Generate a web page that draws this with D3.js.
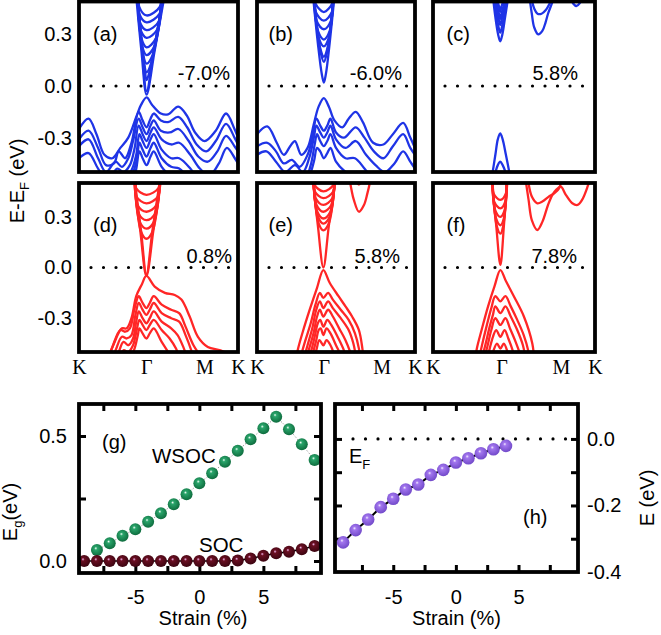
<!DOCTYPE html>
<html><head><meta charset="utf-8">
<script src="https://cdn.jsdelivr.net/npm/d3@7"></script>
<style>body{margin:0;background:#fff} svg{display:block} text{fill:#000}</style>
</head><body><svg id="c" width="661" height="635" font-family="Liberation Sans, Arial, sans-serif"></svg>
<script>
// ---------------- DATA ----------------
const kPoints = [0, 42.3, 78.9, 100];
const kLabels = ["K", "Γ", "M", "K"];
const energyTicks = [0.3, 0.0, -0.3];
const panelTags = ["(a)", "(b)", "(c)", "(d)", "(e)", "(f)"];
const strainTags = ["-7.0%", "-6.0%", "5.8%", "0.8%", "5.8%", "7.8%"];

// band arrays: [k (0..100 along K-Γ-M-K), E-EF (eV)]
const aCond = [
 [[36,0.52],[39.3,0.2],[42.5,-0.05],[47.5,0.2],[53.7,0.52]],
 [[36.6,0.52],[39.8,0.2],[42.5,-0.03],[47,0.2],[53,0.52]],
 [[36.8,0.52],[41.5,0.085],[42.5,0.035],[44.4,0.085],[52.8,0.52]],
 [[36.9,0.52],[41.0,0.13],[42.5,0.08],[45.3,0.13],[52.6,0.52]],
 [[37.0,0.52],[40.4,0.18],[42.5,0.13],[46.3,0.18],[52.4,0.52]],
 [[37.1,0.52],[39.8,0.23],[42.5,0.18],[47.3,0.23],[52.2,0.52]],
 [[37.2,0.52],[39.3,0.275],[42.5,0.225],[48.2,0.275],[52.0,0.52]],
 [[37.3,0.52],[38.6,0.33],[42.5,0.28],[49.3,0.33],[51.8,0.52]],
 [[37.4,0.52],[38.1,0.375],[42.5,0.325],[50.2,0.375],[51.6,0.52]],
 [[37.5,0.52],[37.9,0.42],[42.5,0.37],[50.6,0.42],[51.4,0.52]],
 [[37.6,0.52],[37.9,0.46],[42.5,0.41],[50.8,0.46],[51.2,0.52]]
];
const aVal = [
 [[0,-0.25],[6,-0.19],[11,-0.28],[16,-0.4],[21,-0.42],[26,-0.36],[31,-0.3],[36,-0.18],[39,-0.11],[42.5,-0.066],[46,-0.11],[51.5,-0.16],[56,-0.165],[62.4,-0.12],[67.7,-0.17],[73,-0.27],[79,-0.32],[86,-0.26],[92.5,-0.16],[97.8,-0.25],[100,-0.3]],
 [[0,-0.31],[6,-0.26],[12,-0.36],[17,-0.46],[22,-0.45],[25,-0.38],[29,-0.42],[33,-0.33],[37.5,-0.15],[40,-0.2],[42.5,-0.24],[45,-0.19],[47,-0.16],[51.5,-0.2],[56,-0.21],[62.4,-0.18],[68,-0.24],[74,-0.34],[80,-0.38],[86,-0.32],[92.5,-0.22],[97.8,-0.3],[100,-0.34]],
 [[0,-0.35],[6,-0.31],[12,-0.42],[17,-0.5],[23,-0.44],[27,-0.47],[31,-0.42],[34,-0.32],[37.5,-0.19],[40,-0.24],[42.5,-0.28],[45,-0.23],[47,-0.2],[51.5,-0.26],[57,-0.27],[62.5,-0.25],[69,-0.32],[75,-0.41],[81,-0.44],[87,-0.38],[92.5,-0.29],[97.8,-0.35],[100,-0.38]],
 [[0,-0.42],[6,-0.39],[12,-0.48],[18,-0.55],[24,-0.48],[28,-0.5],[32,-0.46],[35,-0.36],[37.5,-0.23],[40,-0.28],[42.5,-0.32],[45,-0.27],[47,-0.24],[52,-0.31],[58,-0.34],[63,-0.33],[70,-0.4],[76,-0.48],[82,-0.52],[88,-0.45],[93,-0.36],[98,-0.42],[100,-0.45]],
 [[20,-0.55],[25,-0.5],[29,-0.53],[33,-0.49],[36,-0.4],[38,-0.28],[40,-0.32],[42.5,-0.36],[45,-0.31],[47,-0.28],[52,-0.37],[58,-0.42],[63,-0.42],[70,-0.48],[76,-0.56]],
 [[25,-0.56],[30,-0.55],[34,-0.5],[36.5,-0.42],[38,-0.33],[40,-0.37],[42.5,-0.41],[45,-0.36],[47,-0.33],[52,-0.42],[58,-0.47],[63,-0.48],[70,-0.55]],
 [[30,-0.58],[35,-0.52],[38,-0.38],[40,-0.42],[42.5,-0.46],[45,-0.41],[47,-0.38],[52,-0.47],[58,-0.53]]
];
const bCond = [
 [[35.5,0.52],[38.5,0.25],[41,0.07],[42.3,0.02],[43.6,0.07],[46,0.25],[49,0.52]],
 [[36,0.52],[40.4,0.19],[42.3,0.14],[44.2,0.19],[48.5,0.52]],
 [[36.1,0.52],[40.0,0.22],[42.3,0.17],[44.6,0.22],[48.4,0.52]],
 [[36.2,0.52],[39.1,0.28],[42.3,0.23],[45.4,0.28],[48.3,0.52]],
 [[36.3,0.52],[38.6,0.32],[42.3,0.27],[46.0,0.32],[48.2,0.52]],
 [[36.4,0.52],[37.7,0.38],[42.3,0.33],[46.8,0.38],[48.1,0.52]],
 [[36.5,0.52],[37.2,0.43],[42.3,0.38],[47.4,0.43],[48.0,0.52]],
 [[36.7,0.52],[37.0,0.48],[42.3,0.43],[47.6,0.48],[47.9,0.52]]
];
const bVal = [
 [[0,-0.28],[6.5,-0.235],[12.5,-0.33],[17,-0.4],[21,-0.35],[24,-0.32],[28,-0.4],[32,-0.36],[36,-0.22],[39,-0.12],[42.3,-0.07],[45.5,-0.12],[49,-0.2],[54,-0.24],[58,-0.19],[62.5,-0.15],[67,-0.21],[73.5,-0.33],[80,-0.34],[86,-0.28],[92.5,-0.215],[97,-0.3],[100,-0.36]],
 [[0,-0.35],[6.5,-0.33],[12,-0.38],[17,-0.45],[22,-0.43],[27,-0.47],[32,-0.4],[35,-0.3],[37.6,-0.19],[40,-0.23],[42.3,-0.26],[44.5,-0.23],[46.5,-0.19],[50,-0.27],[55,-0.3],[62.5,-0.24],[68,-0.3],[74,-0.38],[80,-0.42],[86,-0.35],[92.5,-0.28],[97,-0.36],[100,-0.4]],
 [[0,-0.4],[6,-0.38],[12,-0.44],[18,-0.5],[24,-0.46],[29,-0.5],[33,-0.42],[36,-0.3],[37.6,-0.23],[40,-0.27],[42.3,-0.3],[44.5,-0.27],[46.5,-0.23],[50,-0.31],[56,-0.36],[62.5,-0.32],[69,-0.4],[75,-0.46],[81,-0.5],[87,-0.45],[92.5,-0.38],[97,-0.44],[100,-0.48]],
 [[18,-0.56],[24,-0.5],[30,-0.55],[34,-0.46],[36.5,-0.34],[38,-0.28],[40,-0.32],[42.3,-0.35],[44.5,-0.32],[46.5,-0.28],[50,-0.36],[56,-0.42],[62,-0.42],[68,-0.48],[74,-0.55]],
 [[28,-0.56],[33,-0.52],[36,-0.44],[38,-0.36],[40,-0.38],[42.3,-0.42],[44.5,-0.39],[46.5,-0.36],[50,-0.44],[56,-0.5],[60,-0.52]]
];
const cCond = [
 [[37,0.52],[38.5,0.4],[40.2,0.3],[41.5,0.26],[42.8,0.3],[44.5,0.4],[46.5,0.52]],
 [[37.5,0.52],[40.3,0.35],[41.5,0.31],[42.7,0.35],[46,0.52]],
 [[38,0.52],[40.5,0.39],[41.5,0.355],[42.5,0.39],[45.5,0.52]],
 [[38.5,0.52],[40.7,0.42],[41.5,0.39],[42.3,0.42],[45,0.52]],
 [[39,0.52],[40.8,0.46],[41.5,0.43],[42.2,0.46],[44.5,0.52]],
 [[59.5,0.52],[61,0.42],[62.5,0.34],[65,0.3],[67.5,0.32],[69.5,0.37],[71,0.42],[73,0.47],[75,0.52]],
 [[60.5,0.52],[62.5,0.45],[64.5,0.42],[67,0.42],[69.5,0.44],[72,0.48],[74,0.52]],
 [[84.5,0.52],[86.5,0.48],[88.5,0.465],[90.5,0.48],[92,0.52]]
];
const cVal = [
 [[36.5,-0.52],[38.5,-0.4],[40,-0.31],[41.5,-0.275],[43,-0.31],[45,-0.4],[47.5,-0.52]],
 [[38,-0.52],[40,-0.46],[41.5,-0.44],[43,-0.46],[45.5,-0.52]]
];
const dCond = [
 [[34.4,0.52],[38.5,0.22],[42.4,-0.05],[46.8,0.22],[51.6,0.52]],
 [[35,0.52],[39,0.22],[42.4,-0.04],[46.2,0.22],[51,0.52]],
 [[35.2,0.52],[39.1,0.21],[42.4,0.17],[46.1,0.21],[50.9,0.52]],
 [[35.3,0.52],[38.2,0.27],[42.4,0.23],[47.1,0.27],[50.8,0.52]],
 [[35.4,0.52],[37.5,0.32],[42.4,0.28],[48.0,0.32],[50.7,0.52]],
 [[35.5,0.52],[36.8,0.37],[42.4,0.33],[48.8,0.37],[50.6,0.52]],
 [[35.6,0.52],[36.1,0.42],[42.4,0.38],[49.6,0.42],[50.5,0.52]],
 [[35.7,0.52],[35.9,0.47],[42.4,0.43],[50.0,0.47],[50.4,0.52]]
];
const dVal = [
 [[18,-0.55],[22,-0.45],[27,-0.36],[30,-0.36],[33,-0.3],[36,-0.17],[39.5,-0.1],[42.4,-0.05],[47.6,-0.113],[54,-0.15],[60.2,-0.163],[64.4,-0.19],[69.6,-0.29],[74.8,-0.41],[81,-0.47],[89,-0.49],[96,-0.52]],
 [[17,-0.57],[21,-0.47],[26,-0.37],[29,-0.38],[32,-0.36],[35,-0.24],[37.6,-0.17],[40,-0.21],[42.4,-0.24],[44.5,-0.21],[47,-0.17],[52,-0.22],[58,-0.25],[63,-0.27],[67,-0.35],[72,-0.46],[77,-0.53]],
 [[19,-0.58],[23,-0.49],[27,-0.41],[30,-0.42],[33,-0.4],[35.5,-0.28],[37.6,-0.21],[40,-0.25],[42.4,-0.28],[44.5,-0.25],[47,-0.21],[52,-0.27],[58,-0.3],[63,-0.32],[67,-0.4],[71,-0.5],[73,-0.56]],
 [[22,-0.58],[25,-0.5],[28,-0.44],[31,-0.46],[34,-0.42],[36,-0.32],[37.6,-0.26],[40,-0.3],[42.4,-0.33],[44.5,-0.3],[47,-0.26],[52,-0.32],[58,-0.36],[62,-0.4],[66,-0.48],[69,-0.56]],
 [[24,-0.58],[28,-0.49],[31,-0.5],[34,-0.46],[36.5,-0.36],[38,-0.31],[40,-0.34],[42.4,-0.37],[44.5,-0.34],[47,-0.31],[52,-0.37],[57,-0.42],[61,-0.48],[64,-0.56]],
 [[27,-0.56],[31,-0.52],[34,-0.5],[37,-0.4],[38,-0.36],[40,-0.39],[42.4,-0.42],[44.5,-0.39],[47,-0.36],[52,-0.44],[56,-0.5],[59,-0.56]]
];
const eCond = [
 [[35.3,0.52],[38.5,0.25],[42,0.0],[45.5,0.25],[49.6,0.52]],
 [[35.6,0.53],[39.1,0.26],[42,0.22],[45.4,0.26],[49.3,0.53]],
 [[35.7,0.53],[38.6,0.30],[42,0.26],[46.0,0.30],[49.2,0.53]],
 [[35.8,0.53],[38.2,0.33],[42,0.29],[46.45,0.33],[49.1,0.53]],
 [[35.9,0.53],[37.7,0.37],[42,0.33],[47.05,0.37],[49.0,0.53]],
 [[36.0,0.53],[37.2,0.41],[42,0.37],[47.65,0.41],[48.9,0.53]],
 [[36.1,0.53],[36.65,0.45],[42,0.41],[48.25,0.45],[48.8,0.53]],
 [[36.2,0.53],[36.4,0.49],[42,0.45],[48.5,0.49],[48.7,0.53]],
 [[58.5,0.53],[59.8,0.46],[61.3,0.40],[64.5,0.33],[67.7,0.37],[69.9,0.44],[71.4,0.5],[72,0.53]],
 [[62,0.53],[64.5,0.49],[67,0.53]]
];
const eVal = [
 [[24.5,-0.55],[26,-0.48],[29,-0.38],[33,-0.26],[38,-0.12],[42,-0.015],[46,-0.09],[51.6,-0.17],[56,-0.23],[60.2,-0.29],[64.5,-0.37],[66.7,-0.48],[67.5,-0.55]],
 [[27,-0.55],[30,-0.45],[34,-0.33],[37,-0.22],[39.8,-0.15],[42,-0.18],[45,-0.15],[48,-0.19],[53,-0.25],[58,-0.31],[62,-0.39],[64.5,-0.48],[65.5,-0.55]],
 [[29,-0.56],[32,-0.46],[35,-0.36],[37.5,-0.25],[39.8,-0.2],[42,-0.24],[45,-0.2],[48,-0.24],[53,-0.3],[58,-0.37],[61,-0.45],[63,-0.55]],
 [[30,-0.56],[33,-0.48],[36,-0.38],[38,-0.29],[39.8,-0.25],[42,-0.29],[45,-0.25],[48,-0.29],[52,-0.36],[56,-0.43],[59,-0.5],[61,-0.56]],
 [[31,-0.56],[34,-0.5],[36.5,-0.41],[38.5,-0.33],[40,-0.31],[42,-0.35],[44.5,-0.31],[47,-0.34],[51,-0.41],[55,-0.49],[57,-0.56]],
 [[33,-0.56],[35.5,-0.5],[37.5,-0.43],[39,-0.37],[40.3,-0.36],[42,-0.4],[44,-0.36],[46.5,-0.39],[50,-0.46],[53,-0.52],[54,-0.56]],
 [[35,-0.56],[37.5,-0.49],[39.5,-0.43],[42,-0.46],[44,-0.43],[46.5,-0.46],[49,-0.52],[50,-0.56]]
];
const fCond = [
 [[36.2,0.52],[39,0.25],[41.6,0.015],[43.8,0.25],[46,0.52]],
 [[36.6,0.53],[39.5,0.24],[41.6,0.2],[43.2,0.24],[45.7,0.53]],
 [[36.7,0.53],[38.95,0.29],[41.6,0.25],[43.7,0.29],[45.6,0.53]],
 [[36.8,0.53],[38.4,0.34],[41.6,0.3],[44.2,0.34],[45.5,0.53]],
 [[36.9,0.53],[37.8,0.39],[41.6,0.35],[44.6,0.39],[45.4,0.53]],
 [[37.0,0.53],[37.3,0.44],[41.6,0.4],[45.05,0.44],[45.3,0.53]],
 [[57,0.53],[59,0.4],[61,0.28],[64.4,0.222],[67.5,0.27],[71,0.37],[73.7,0.43],[76,0.46],[78.9,0.478],[82,0.43],[86,0.38],[89.2,0.37],[92,0.4],[95.4,0.478],[97,0.53]],
 [[58.5,0.53],[61,0.42],[64.4,0.38],[67.5,0.39],[71.6,0.42],[75,0.44],[77.8,0.468],[79.5,0.53]],
 [[3,0.53],[5,0.5],[7,0.53]]
];
const fVal = [
 [[26,-0.55],[27.1,-0.478],[30,-0.37],[34,-0.23],[38,-0.11],[41.6,-0.015],[45,-0.08],[49.9,-0.17],[56.1,-0.29],[61.3,-0.45],[62.5,-0.55]],
 [[28,-0.56],[30,-0.47],[33,-0.35],[36,-0.24],[38.5,-0.17],[41.6,-0.2],[44.7,-0.17],[48,-0.23],[52,-0.31],[56,-0.4],[59,-0.5],[60,-0.56]],
 [[29.5,-0.56],[32,-0.47],[35,-0.35],[37,-0.28],[38.5,-0.23],[41.6,-0.27],[44.7,-0.23],[48,-0.29],[52,-0.37],[55.5,-0.46],[57.5,-0.56]],
 [[31,-0.56],[33.5,-0.47],[36,-0.37],[38.5,-0.3],[41.6,-0.34],[44.7,-0.3],[47.5,-0.36],[51,-0.44],[54,-0.52],[55,-0.56]],
 [[33,-0.56],[35,-0.48],[37,-0.41],[39,-0.37],[41.6,-0.41],[44.2,-0.37],[46.5,-0.42],[49.5,-0.5],[51,-0.56]],
 [[35,-0.56],[37,-0.5],[39.5,-0.45],[41.6,-0.48],[43.7,-0.45],[46,-0.5],[47.5,-0.56]]
];

// panel (g): band gap vs strain
const strainWSOC = [-8,-7,-6,-5,-4,-3,-2,-1,0,1,2,3,4,5,6,7,8,9];
const gapWSOC = [0.044,0.071,0.101,0.127,0.157,0.191,0.227,0.267,0.311,0.351,0.397,0.441,0.487,0.531,0.577,0.527,0.467,0.404];
const strainSOC = [-9,-8,-7,-6,-5,-4,-3,-2,-1,0,1,2,3,4,5,6,7,8,9];
const gapSOC = [0.0,0.0,0.0,0.0,0.0,0.0,0.0,0.0,0.0,0.0,0.0,0.0,0.002,0.01,0.021,0.031,0.037,0.047,0.06];
const gTicksX = [-5, 0, 5];
const gTicksY = [0.0, 0.5];
// panel (h): band position vs strain
const strainEF = [-9,-8,-7,-6,-5,-4,-3,-2,-1,0,1,2,3,4];
const energyEF = [-0.311,-0.274,-0.242,-0.205,-0.180,-0.152,-0.137,-0.108,-0.093,-0.071,-0.058,-0.043,-0.031,-0.021];
const hTicksX = [-5, 0, 5];
const hTicksY = [0.0, -0.2, -0.4];

// ---------------- DRAW ----------------
const SANS = "Liberation Sans, Arial, sans-serif";
const SERIF = "Liberation Serif, Times New Roman, serif";
const svg = d3.select("#c");
const defs = svg.append("defs");
const BLUE = "#1f34e6", RED = "#ff2626";

const bandSets = [
  {bands: aCond.concat(aVal), col: 0, row: 0},
  {bands: bCond.concat(bVal), col: 1, row: 0},
  {bands: cCond.concat(cVal), col: 2, row: 0},
  {bands: dCond.concat(dVal), col: 0, row: 1},
  {bands: eCond.concat(eVal), col: 1, row: 1},
  {bands: fCond.concat(fVal), col: 2, row: 1}
];
const cols = [{x0:79, x1:238, tagDx:14, pctR:230}, {x0:257, x1:415, tagDx:11.5, pctR:402}, {x0:433, x1:595, tagDx:13.5, pctR:578}];
const rows = [{y0:0, y1:172, ft:1.5, tagY:41, pctY:80}, {y0:183, y1:352, ft:183, tagY:232, pctY:263}];
const pctRight2 = [232, 400, 577];

bandSets.forEach((p, i) => {
  const c = cols[p.col], r = rows[p.row];
  const x = d3.scaleLinear().domain([0, 100]).range([c.x0, c.x1]);
  const y = d3.scaleLinear().domain([-0.5, 0.5]).range([r.y1, r.y0]);
  const g = svg.append("g");
  const cid = "clip" + i;
  defs.append("clipPath").attr("id", cid).append("rect")
    .attr("x", c.x0).attr("y", r.ft).attr("width", c.x1 - c.x0).attr("height", r.y1 - r.ft);
  const line = d3.line().x(d => x(d[0])).y(d => y(d[1])).curve(d3.curveCatmullRom.alpha(0.5));
  g.append("g").attr("clip-path", `url(#${cid})`).selectAll("path").data(p.bands).join("path")
    .attr("d", line).attr("fill", "none").attr("stroke", p.row === 0 ? BLUE : RED)
    .attr("stroke-width", 2.3).attr("stroke-linejoin", "round");
  g.append("line").attr("x1", c.x0 + 12).attr("x2", c.x1 - 3).attr("y1", y(0)).attr("y2", y(0))
    .attr("stroke", "#000").attr("stroke-width", 3.2).attr("stroke-linecap", "round")
    .attr("stroke-dasharray", "0,12.5");
  g.append("rect").attr("x", c.x0).attr("y", r.ft).attr("width", c.x1 - c.x0).attr("height", r.y1 - r.ft)
    .attr("fill", "none").attr("stroke", "#000").attr("stroke-width", 3.8);
  g.append("text").attr("x", c.x0 + c.tagDx).attr("y", r.tagY).attr("font-size", 20).text(panelTags[i]);
  g.append("text").attr("x", p.row === 0 ? c.pctR : pctRight2[p.col]).attr("y", r.pctY)
    .attr("text-anchor", "end").attr("font-size", 20).text(strainTags[i]);
  if (p.col === 0) {
    const ax = d3.axisLeft(y).tickValues(energyTicks).tickSize(0).tickPadding(7).tickFormat(d => d.toFixed(1));
    const ag = g.append("g").attr("transform", `translate(${c.x0},0)`).call(ax);
    ag.select(".domain").remove();
    ag.attr("font-size", 20).attr("font-family", SANS);
  }
  if (p.row === 1) {
    const ax = d3.axisBottom(x).tickValues(kPoints).tickSize(0).tickPadding(8).tickFormat((d, j) => kLabels[j]);
    const ag = g.append("g").attr("transform", `translate(0,${r.y1})`).call(ax);
    ag.select(".domain").remove();
    ag.attr("font-size", 20).attr("font-family", SERIF);
  }
});

svg.append("text").attr("transform", "translate(24,181) rotate(-90)").attr("text-anchor", "middle").attr("font-size", 20)
  .call(t => {
    t.append("tspan").text("E-E");
    t.append("tspan").attr("font-size", 13).attr("dy", 5).text("F");
    t.append("tspan").attr("dy", -5).text(" (eV)");
  });

function ball(id, hi, mid, edge) {
  const gr = defs.append("radialGradient").attr("id", id).attr("cx", "45%").attr("cy", "42%").attr("r", "60%").attr("fx", "40%").attr("fy", "35%");
  gr.append("stop").attr("offset", "0%").attr("stop-color", hi);
  gr.append("stop").attr("offset", "22%").attr("stop-color", mid);
  gr.append("stop").attr("offset", "100%").attr("stop-color", edge);
}
ball("gGreen", "#f4fff8", "#2aa56b", "#0d6a3c");
ball("gMaroon", "#f2b8ef", "#6a0f22", "#3a0410");
ball("gPurple", "#f5eeff", "#a276ee", "#7048c8");

function tickAxes(g, x, y, X0, X1, Y0, Y1, xt, yt) {
  const L = 7;
  g.append("g").attr("transform", `translate(0,${Y1})`).call(d3.axisBottom(x).tickValues(xt).tickSize(-L).tickFormat(""));
  g.append("g").attr("transform", `translate(0,${Y0})`).call(d3.axisTop(x).tickValues(xt).tickSize(-L).tickFormat(""));
  g.append("g").attr("transform", `translate(${X0},0)`).call(d3.axisLeft(y).tickValues(yt).tickSize(-L).tickFormat(""));
  g.append("g").attr("transform", `translate(${X1},0)`).call(d3.axisRight(y).tickValues(yt).tickSize(-L).tickFormat(""));
  g.selectAll(".domain").remove();
  g.selectAll(".tick line").attr("stroke", "#000").attr("stroke-width", 3);
}

// ---- panel (g)
{
  const X0 = 79, X1 = 321, Y0 = 404, Y1 = 573;
  const x = d3.scaleLinear().domain([-9.4, 9.5]).range([X0, X1]);
  const y = d3.scaleLinear().domain([-0.048, 0.628]).range([Y1, Y0]);
  const g = svg.append("g");
  tickAxes(g, x, y, X0, X1, Y0, Y1, [-7.5, -5, -2.5, 0, 2.5, 5, 7.5], [0, 0.25, 0.5]);
  const lx = d3.axisBottom(x).tickValues(gTicksX).tickSize(0).tickPadding(17).tickFormat(d => String(d));
  const lg = g.append("g").attr("transform", `translate(0,${Y1})`).call(lx);
  const ly = d3.axisLeft(y).tickValues(gTicksY).tickSize(0).tickPadding(12).tickFormat(d => d.toFixed(1));
  const lyg = g.append("g").attr("transform", `translate(${X0},0)`).call(ly);
  [lg, lyg].forEach(a => { a.select(".domain").remove(); a.attr("font-size", 20).attr("font-family", SANS); });
  const line = d3.line().x(d => x(d[0])).y(d => y(d[1]));
  g.append("path").attr("d", line(d3.zip(strainWSOC, gapWSOC))).attr("fill", "none").attr("stroke", "#777").attr("stroke-width", 1).attr("stroke-dasharray", "1,2");
  g.append("path").attr("d", line(d3.zip(strainSOC, gapSOC))).attr("fill", "none").attr("stroke", "#000").attr("stroke-width", 1.5);
  g.selectAll("circle.w").data(d3.zip(strainWSOC, gapWSOC)).join("circle").attr("class", "w")
    .attr("cx", d => x(d[0])).attr("cy", d => y(d[1])).attr("r", 6).attr("fill", "url(#gGreen)");
  g.selectAll("circle.s").data(d3.zip(strainSOC, gapSOC)).join("circle").attr("class", "s")
    .attr("cx", d => x(d[0])).attr("cy", d => y(d[1])).attr("r", 6).attr("fill", "url(#gMaroon)");
  g.append("rect").attr("x", X0).attr("y", Y0).attr("width", X1 - X0).attr("height", Y1 - Y0).attr("fill", "none").attr("stroke", "#000").attr("stroke-width", 3.8);
  g.append("text").attr("x", 102).attr("y", 449).attr("font-size", 20).text("(g)");
  g.append("text").attr("x", 152).attr("y", 463).attr("font-size", 20.5).text("WSOC");
  g.append("text").attr("x", 199).attr("y", 552).attr("font-size", 20.5).text("SOC");
  g.append("text").attr("x", 203).attr("y", 625).attr("text-anchor", "middle").attr("font-size", 20).text("Strain (%)");
  g.append("text").attr("transform", "translate(17,512) rotate(-90)").attr("text-anchor", "middle").attr("font-size", 20)
    .call(t => {
      t.append("tspan").text("E");
      t.append("tspan").attr("font-size", 13).attr("dy", 5).text("g");
      t.append("tspan").attr("dy", -5).text("(eV)");
    });
}

// ---- panel (h)
{
  const X0 = 335, X1 = 578, Y0 = 404, Y1 = 572;
  const x = d3.scaleLinear().domain([-9.65, 9.75]).range([X0, X1]);
  const y = d3.scaleLinear().domain([-0.4, 0.105]).range([Y1, Y0]);
  const g = svg.append("g");
  tickAxes(g, x, y, X0, X1, Y0, Y1, [-7.5, -5, -2.5, 0, 2.5, 5, 7.5], [0, -0.1, -0.2, -0.3]);
  const lx = d3.axisBottom(x).tickValues(hTicksX).tickSize(0).tickPadding(18).tickFormat(d => String(d));
  const lg = g.append("g").attr("transform", `translate(0,${Y1})`).call(lx);
  const ly = d3.axisRight(y).tickValues(hTicksY).tickSize(0).tickPadding(9).tickFormat(d => d.toFixed(1));
  const lyg = g.append("g").attr("transform", `translate(${X1},0)`).call(ly);
  [lg, lyg].forEach(a => { a.select(".domain").remove(); a.attr("font-size", 20).attr("font-family", SANS); });
  g.append("line").attr("x1", X0 + 18).attr("x2", X1 - 8).attr("y1", y(0)).attr("y2", y(0))
    .attr("stroke", "#000").attr("stroke-width", 3.2).attr("stroke-linecap", "round").attr("stroke-dasharray", "0,12.5");
  const line = d3.line().x(d => x(d[0])).y(d => y(d[1]));
  g.append("path").attr("d", line(d3.zip(strainEF, energyEF))).attr("fill", "none").attr("stroke", "#000").attr("stroke-width", 2);
  g.selectAll("circle.p").data(d3.zip(strainEF, energyEF)).join("circle").attr("class", "p")
    .attr("cx", d => x(d[0])).attr("cy", d => y(d[1])).attr("r", 6.3).attr("fill", "url(#gPurple)");
  g.append("rect").attr("x", X0).attr("y", Y0).attr("width", X1 - X0).attr("height", Y1 - Y0).attr("fill", "none").attr("stroke", "#000").attr("stroke-width", 3.8);
  g.append("text").attr("x", 523).attr("y", 524).attr("font-size", 20).text("(h)");
  g.append("text").attr("x", 349).attr("y", 463).attr("font-size", 20)
    .call(t => {
      t.append("tspan").text("E");
      t.append("tspan").attr("font-size", 13).attr("dy", 6).text("F");
    });
  g.append("text").attr("x", 456.5).attr("y", 625).attr("text-anchor", "middle").attr("font-size", 20).text("Strain (%)");
  g.append("text").attr("transform", "translate(654,498) rotate(-90)").attr("text-anchor", "middle").attr("font-size", 20).text("E (eV)");
}
</script></body></html>
